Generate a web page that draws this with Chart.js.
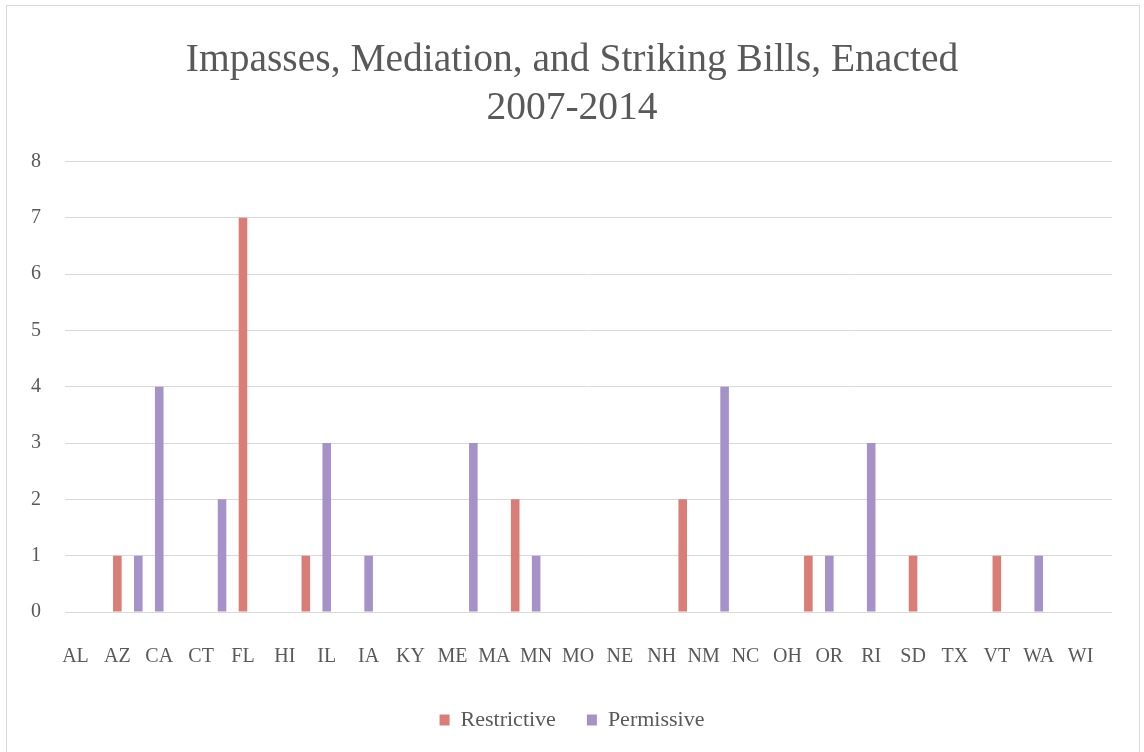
<!DOCTYPE html>
<html>
<head>
<meta charset="utf-8">
<script src="https://cdn.jsdelivr.net/npm/chart.js@4/dist/chart.umd.min.js"></script>
<style>
  html, body { margin: 0; padding: 0; background: #fff; }
  #wrap { width: 1144px; height: 752px; position: relative; }
</style>
</head>
<body>
<div id="wrap"><canvas id="billsChart" width="1144" height="752"></canvas></div>
<script>
// all 50 states, alphabetical by name; only every other one gets a tick label
const states = ['AL','AK','AZ','AR','CA','CO','CT','DE','FL','GA',
                'HI','ID','IL','IN','IA','KS','KY','LA','ME','MD',
                'MA','MI','MN','MS','MO','MT','NE','NV','NH','NJ',
                'NM','NY','NC','ND','OH','OK','OR','PA','RI','SC',
                'SD','TN','TX','UT','VT','VA','WA','WV','WI','WY'];

const restrictive = [0,0,1,0,0,0,0,0,7,0,
                     0,1,0,0,0,0,0,0,0,0,
                     0,2,0,0,0,0,0,0,0,2,
                     0,0,0,0,0,1,0,0,0,0,
                     1,0,0,0,1,0,0,0,0,0];

const permissive  = [0,0,0,1,4,0,0,2,0,0,
                     0,0,3,0,1,0,0,0,0,3,
                     0,0,1,0,0,0,0,0,0,0,
                     0,4,0,0,0,0,1,0,3,0,
                     0,0,0,0,0,0,1,0,0,0];

const yTicks = [0,1,2,3,4,5,6,7,8];

const textGray = '#595959';
const serif = "'Liberation Serif', 'DejaVu Serif', serif";

// white page with thin grey frame
const framePlugin = {
  id: 'frame',
  beforeDraw(chart) {
    const c = chart.ctx;
    c.save();
    c.fillStyle = '#fff';
    c.fillRect(0, 0, chart.width, chart.height);
    c.strokeStyle = '#d9d9d9';
    c.lineWidth = 1;
    c.strokeRect(6.5, 5.5, 1133, 770);
    c.restore();
  }
};

// centre title and legend on the whole canvas, not on the padded area
const centerBlocks = {
  id: 'centerBlocks',
  afterLayout(chart) {
    [chart.titleBlock, chart.legend].forEach(b => {
      if (b) { b.left = 0; b.right = chart.width; b.width = chart.width; }
    });
  }
};

const ctx = document.getElementById('billsChart').getContext('2d');
const billsChart = new Chart(ctx, {
  type: 'bar',
  data: {
    labels: states,
    datasets: [{
      label: 'Restrictive',
      data: restrictive,
      backgroundColor: '#da7d77',
      barPercentage: 0.41,
      categoryPercentage: 1
    }, {
      label: 'Permissive',
      data: permissive,
      backgroundColor: '#a592c8',
      barPercentage: 0.41,
      categoryPercentage: 1
    }]
  },
  options: {
    responsive: false,
    animation: false,
    layout: {
      padding: { left: 0, right: 32, top: 0, bottom: 11 }
    },
    scales: {
      x: {
        stacked: true,
        afterFit: s => { s.height = 66; },
        grid: { display: false, drawTicks: false },
        border: { display: false },
        ticks: {
          autoSkip: false,
          maxRotation: 0,
          padding: 33,
          color: textGray,
          font: { family: serif, size: 20 },
          callback: function (v, i) {
            return i % 2 === 0 ? this.getLabelForValue(v) : '';
          }
        }
      },
      y: {
        stacked: true,
        min: 0,
        max: 8,
        afterFit: s => { s.width = 65; },
        afterBuildTicks: s => { s.ticks = yTicks.map(v => ({ value: v })); },
        grid: { color: '#d9d9d9', lineWidth: 1, drawTicks: false },
        border: { display: false },
        ticks: {
          padding: 24,
          color: textGray,
          font: { family: serif, size: 20 }
        }
      }
    },
    plugins: {
      title: {
        display: true,
        text: ['Impasses, Mediation, and Striking Bills, Enacted', '2007-2014'],
        color: textGray,
        font: { family: serif, size: 39.5, weight: 'normal', lineHeight: 1.22 },
        padding: { top: 36.5, bottom: 28.5 }
      },
      legend: {
        position: 'bottom',
        labels: {
          color: textGray,
          font: { family: serif, size: 22 },
          boxWidth: 10,
          boxHeight: 11,
          padding: 31
        }
      },
      tooltip: { enabled: false }
    }
  },
  plugins: [framePlugin, centerBlocks]
});
</script>
</body>
</html>
